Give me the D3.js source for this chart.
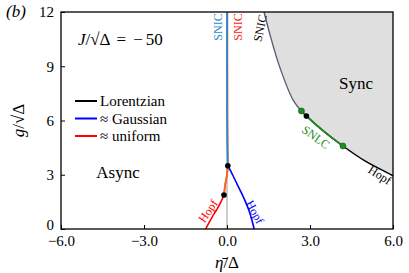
<!DOCTYPE html>
<html>
<head>
<meta charset="utf-8">
<script src="https://cdn.jsdelivr.net/npm/d3@7"></script>
<style>
  body { margin: 0; background: #fff; }
</style>
</head>
<body>
<div id="chart"></div>
<script>
// axis ticks
const xTicks = [-6, -3, 0, 3, 6]
const yTicks = [0, 3, 6, 9, 12]

// Lorentzian boundary (SNIC on top, SNLC / Hopf lower part)
const lorEta = [1.34, 1.54, 1.9, 2.39, 2.69, 2.87, 3.5, 4.19, 5.0, 5.94, 6.0]
const lorG = [12, 10.82, 8.98, 7.13, 6.53, 6.25, 5.4, 4.59, 3.75, 2.99, 2.93]
// SNLC piece between the two green dots
const snlcEta = [2.69, 2.87, 3.5, 4.19]
const snlcG = [6.53, 6.25, 5.4, 4.59]

// gaussian: SNIC vertical + Hopf branch
const gaussSnicEta = [0.03, 0.01, 0.0, 0.0]
const gaussSnicG = [3.5, 5, 8, 12]
const gaussHopfEta = [0.03, 0.2, 0.36, 0.52, 0.67, 0.8, 0.9, 0.98]
const gaussHopfG = [3.5, 3.0, 2.5, 2.0, 1.5, 1.0, 0.5, 0]

// uniform: Hopf branch, SNIC part
const unifHopfEta = [-0.77, -0.65, -0.52, -0.38, -0.25, -0.11]
const unifHopfG = [0, 0.35, 0.7, 1.05, 1.4, 1.88]
const unifSnicEta = [-0.11, -0.06, 0.0, 0.03, 0.02, 0.015]
const unifSnicG = [1.88, 2.5, 3.0, 3.5, 6, 12]

// marked points
const blackDotEta = [-0.11, 0.03, 2.87]
const blackDotG = [1.88, 3.5, 6.25]
const greenDotEta = [2.69, 4.19]
const greenDotG = [6.53, 4.59]

const width = 409
const height = 273
const margin = {top: 12, right: 16, bottom: 44, left: 61}
const serif = "'Liberation Serif', 'DejaVu Serif', serif"

const svg = d3.select("#chart")
    .append("svg")
    .attr("width", width)
    .attr("height", height)
    .attr("font-family", serif)

const x = d3.scaleLinear().domain([-6, 6]).range([margin.left, width - margin.right])
const y = d3.scaleLinear().domain([0, 12]).range([height - margin.bottom, margin.top])

const zip = (a, b) => a.map((v, i) => [v, b[i]])
const line = d3.line().x(d => x(d[0])).y(d => y(d[1])).curve(d3.curveMonotoneY)
const lineX = d3.line().x(d => x(d[0])).y(d => y(d[1])).curve(d3.curveCatmullRom)

// sync region
const fillPts = zip(lorEta, lorG).concat([[6, 12]])
svg.append("path")
    .attr("d", d3.line().x(d => x(d[0])).y(d => y(d[1])).curve(d3.curveLinear)(fillPts) + "Z")
    .attr("fill", "#dfdfdf")

// zero line
svg.append("line")
    .attr("x1", x(0)).attr("x2", x(0))
    .attr("y1", y(0)).attr("y2", y(12))
    .attr("stroke", "#999").attr("stroke-width", 1)

const lor = zip(lorEta, lorG)
svg.append("path").attr("d", lineX(lor.slice(0, 5)))
    .attr("fill", "none").attr("stroke", "#5b5f7d").attr("stroke-width", 1.4)
svg.append("path").attr("d", lineX(lor.slice(4)))
    .attr("fill", "none").attr("stroke", "#000").attr("stroke-width", 1.5)
svg.append("path").attr("d", lineX(zip(snlcEta, snlcG)))
    .attr("fill", "none").attr("stroke", "#1e8c1e").attr("stroke-width", 1.8)

// uniform
svg.append("path").attr("d", line(zip(unifSnicEta, unifSnicG)))
    .attr("fill", "none").attr("stroke", "#ff3a3a").attr("stroke-width", 1.6)
svg.append("path").attr("d", lineX(zip(unifHopfEta, unifHopfG)))
    .attr("fill", "none").attr("stroke", "#ff0000").attr("stroke-width", 1.6)

// gaussian
svg.append("path").attr("d", line(zip(gaussSnicEta, gaussSnicG)))
    .attr("fill", "none").attr("stroke", "#2b8ccc").attr("stroke-width", 1.8)
svg.append("path").attr("d", lineX(zip(gaussHopfEta, gaussHopfG)))
    .attr("fill", "none").attr("stroke", "#0000ff").attr("stroke-width", 1.6)
// overlap piece looks orange
svg.append("path").attr("d", line(zip(unifSnicEta.slice(0, 4), unifSnicG.slice(0, 4))))
    .attr("fill", "none").attr("stroke", "#f26a1b").attr("stroke-width", 1.8)

// dots
svg.selectAll("blackDots")
    .data(zip(blackDotEta, blackDotG))
    .enter()
    .append("circle")
    .attr("cx", d => x(d[0])).attr("cy", d => y(d[1]))
    .attr("r", 2.8).attr("fill", "#000")
svg.selectAll("greenDots")
    .data(zip(greenDotEta, greenDotG))
    .enter()
    .append("circle")
    .attr("cx", d => x(d[0])).attr("cy", d => y(d[1]))
    .attr("r", 3).attr("fill", "#1e8c1e").attr("stroke", "#105010").attr("stroke-width", 0.6)

// axes (ticks pointing inward)
const xAxis = svg.append("g")
    .attr("transform", "translate(0," + y(0) + ")")
    .call(d3.axisBottom(x).tickValues(xTicks).tickFormat(d3.format(".1f"))
        .tickSizeInner(-4).tickSizeOuter(0).tickPadding(6))
const yAxis = svg.append("g")
    .attr("transform", "translate(" + x(-6) + ",0)")
    .call(d3.axisLeft(y).tickValues(yTicks).tickFormat(d3.format("d"))
        .tickSizeInner(-4).tickSizeOuter(0).tickPadding(7))
for (const ax of [xAxis, yAxis]) {
    ax.attr("font-family", serif).attr("font-size", 15)
    ax.select(".domain").remove()
    ax.selectAll("text").attr("fill", "#000")
    ax.selectAll("line").attr("stroke", "#000")
}
xAxis.selectAll("text").attr("dy", "0.72em")
yAxis.selectAll("text").filter(d => d === 0).attr("dy", "0.02em")

// frame
svg.append("rect")
    .attr("x", x(-6)).attr("y", y(12))
    .attr("width", x(6) - x(-6)).attr("height", y(0) - y(12))
    .attr("fill", "none").attr("stroke", "#000").attr("stroke-width", 1.3)

// axis labels
const xl = svg.append("text")
    .attr("x", x(0)).attr("y", 268)
    .attr("text-anchor", "middle").attr("font-size", 17)
xl.append("tspan").attr("font-style", "italic").text("η\u0304")
xl.append("tspan").text("/Δ")

const yl = svg.append("text")
    .attr("transform", "translate(24," + y(6) + ") rotate(-90)")
    .attr("text-anchor", "middle").attr("font-size", 17)
yl.append("tspan").attr("font-style", "italic").text("g")
yl.append("tspan").text("/√Δ")

svg.append("text").attr("x", 6).attr("y", 17)
    .attr("font-size", 17).attr("font-style", "italic").text("(b)")

const jl = svg.append("text").attr("x", 78).attr("y", 45).attr("font-size", 17)
jl.append("tspan").attr("font-style", "italic").text("J")
jl.append("tspan").text("/√Δ")
jl.append("tspan").attr("dx", 6).text("=")
jl.append("tspan").attr("dx", 7).text("−")
jl.append("tspan").attr("dx", 3).text("50")

// legend
const legNames = ["Lorentzian", "≈ Gaussian", "≈ uniform"]
const legColors = ["#000", "#0000ff", "#ff0000"]
const leg = svg.selectAll("legend")
    .data(legNames)
    .enter()
    .append("g")
    .attr("transform", (d, i) => "translate(75," + (101 + i * 17.5) + ")")
leg.append("line").attr("x1", 0).attr("x2", 22)
    .attr("stroke", (d, i) => legColors[i]).attr("stroke-width", 2)
leg.append("text").attr("x", 25).attr("y", 5)
    .attr("font-size", 15).text(d => d)

// region labels
svg.append("text").attr("x", 118).attr("y", 178).attr("text-anchor", "middle")
    .attr("font-size", 17).text("Async")
svg.append("text").attr("x", 356).attr("y", 89).attr("text-anchor", "middle")
    .attr("font-size", 17).text("Sync")

// curve labels
const curveLabels = [
    {t: "SNIC", x: 218, y: 27, r: -90, c: "#2b8ccc"},
    {t: "SNIC", x: 238, y: 27, r: -90, c: "#ff2020"},
    {t: "SNIC", x: 260, y: 28, r: -78, c: "#000"},
    {t: "Hopf", x: 208, y: 211, r: -56, c: "#ff0000"},
    {t: "Hopf", x: 255, y: 212, r: 62, c: "#0000ff"},
    {t: "SNLC", x: 316, y: 137, r: 36, c: "#1e8c1e"},
    {t: "Hopf", x: 380, y: 175, r: 32, c: "#000"}
]
svg.selectAll("curveLabels")
    .data(curveLabels)
    .enter()
    .append("text")
    .attr("transform", d => "translate(" + d.x + "," + d.y + ") rotate(" + d.r + ")")
    .attr("text-anchor", "middle").attr("dy", "0.35em")
    .attr("fill", d => d.c)
    .attr("font-size", 12)
    .text(d => d.t)
</script>
</body>
</html>
